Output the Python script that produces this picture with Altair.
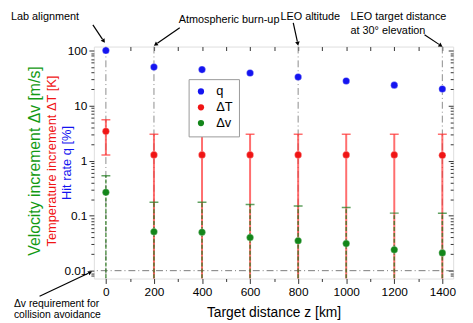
import math
import altair as alt
import pandas as pd

# ---------------- data ----------------
z = [0, 200, 400, 600, 800, 1000, 1200, 1400]
q = [100, 50, 45, 39, 33, 28, 23.5, 20]
dT = [3.4, 1.27, 1.27, 1.27, 1.27, 1.27, 1.27, 1.25]
dT_hi = [5.5, 3.0, 3.0, 3.0, 3.0, 3.0, 3.0, 3.0]
dT_lo = [1.26, 0.001, 0.001, 0.001, 0.001, 0.001, 0.001, 0.001]
dv = [0.265, 0.051, 0.05, 0.04, 0.035, 0.031, 0.024, 0.021]
dv_hi = [0.53, 0.175, 0.175, 0.16, 0.15, 0.14, 0.111, 0.11]
dv_lo = [0.001, 0.001, 0.001, 0.001, 0.001, 0.001, 0.001, 0.001]
series = ["q", "ΔT", "Δv"]
colors = ["#1414f0", "#f01414", "#13861a"]
marked_z = [0, 200, 800, 1400]
dv_requirement = [0.01]
x_ticks = [0, 200, 400, 600, 800, 1000, 1200, 1400]
x_minor = [100, 300, 500, 700, 900, 1100, 1300]
x_top = list(range(0, 1401, 100))
y_ticks = [0.01, 0.1, 1, 10, 100]
y_minor = [m * d for d in [0.001, 0.01, 0.1, 1, 10] for m in range(2, 10)]
y_minor = [v for v in y_minor if 0.0072 < v < 118 and v not in y_ticks]

FONT = "Liberation Sans"
W, H = 364, 235
xs = alt.Scale(domain=[-50, 1445], nice=False, zero=False)
ys = alt.Scale(type="log", domain=[0.0072, 118], nice=False)

df = pd.DataFrame({"z": z, "q": q, "dT": dT, "dT_hi": dT_hi, "dT_lo": dT_lo,
                   "dv": dv, "dv_hi": dv_hi, "dv_lo": dv_lo})
pts = pd.DataFrame({
    "z": z * 3,
    "val": q + dT + dv,
    "s": [series[0]] * len(z) + [series[1]] * len(z) + [series[2]] * len(z),
})

base = alt.Chart(df)


def axis_layer(xaxis, yaxis):
    return base.mark_point(opacity=0).encode(
        x=alt.X("z:Q", scale=xs, axis=xaxis),
        y=alt.Y("q:Q", scale=ys, axis=yaxis),
    )


common = dict(grid=False, domain=False, tickColor="#333", labelColor="black",
              labelFont=FONT, labelFontSize=12, labelFlush=False, labelOverlap=False)

ax1 = axis_layer(
    alt.Axis(orient="bottom", values=x_ticks, format="d", tickSize=5, labelPadding=3,
             title="Target distance z [km]", titleFont=FONT, titleFontSize=14,
             titleFontWeight="normal", titlePadding=8, titleColor="black", **common),
    alt.Axis(orient="left", values=y_ticks, format="~g", tickSize=5, labelPadding=2,
             title=None, **common),
)
ax2 = axis_layer(
    alt.Axis(orient="bottom", values=x_minor, tickSize=3, labels=False, title=None, **common),
    alt.Axis(orient="left", values=y_minor, tickSize=3, labels=False, title=None, **common),
)
ax3 = axis_layer(
    alt.Axis(orient="bottom", values=x_top, tickSize=4, labels=False, title=None,
             offset=-H, **common),
    alt.Axis(orient="left", values=y_ticks, tickSize=5, labels=False, title=None,
             offset=-W, **common),
)
ax4 = axis_layer(
    None,
    alt.Axis(orient="left", values=y_minor, tickSize=3, labels=False, title=None,
             offset=-W, **common),
)

dash = [7, 3, 1, 3]
vlines = alt.Chart(pd.DataFrame({"z": marked_z})).mark_rule(
    color="#8c8c8c", strokeDash=dash, strokeWidth=1).encode(
    x=alt.X("z:Q", scale=xs, axis=None))
hline = alt.Chart(pd.DataFrame({"v": dv_requirement})).mark_rule(
    color="#7a7a7a", strokeDash=dash, strokeWidth=1).encode(
    y=alt.Y("v:Q", scale=ys, axis=None))

red_bars = base.mark_rule(color="#ff3030", opacity=0.7, strokeWidth=2, clip=True).encode(
    x=alt.X("z:Q", scale=xs, axis=None),
    y=alt.Y("dT_lo:Q", scale=ys, axis=None), y2="dT_hi:Q")
red_caps_hi = base.mark_tick(color="#ff3030", orient="horizontal", size=9, thickness=1.5,
                             clip=True).encode(
    x=alt.X("z:Q", scale=xs, axis=None), y=alt.Y("dT_hi:Q", scale=ys, axis=None))
red_caps_lo = base.mark_tick(color="#ff3030", opacity=0.7, orient="horizontal", size=9,
                             thickness=1.5, clip=True).encode(
    x=alt.X("z:Q", scale=xs, axis=None), y=alt.Y("dT_lo:Q", scale=ys, axis=None))
green_bars = base.mark_rule(color="#2d7a22", opacity=0.75, strokeWidth=1.6,
                            strokeDash=[4, 2], clip=True).encode(
    x=alt.X("z:Q", scale=xs, axis=None),
    y=alt.Y("dv_lo:Q", scale=ys, axis=None), y2="dv_hi:Q")
green_caps = base.mark_tick(color="#1e7a1e", orient="horizontal", size=9, thickness=1.5,
                            clip=True).encode(
    x=alt.X("z:Q", scale=xs, axis=None), y=alt.Y("dv_hi:Q", scale=ys, axis=None))

points = alt.Chart(pts).mark_circle(size=52, opacity=1, stroke="white", strokeWidth=0.3).encode(
    x=alt.X("z:Q", scale=xs, axis=None),
    y=alt.Y("val:Q", scale=ys, axis=None),
    color=alt.Color("s:N", scale=alt.Scale(domain=series, range=colors),
                    legend=alt.Legend(orient="none", legendX=96, legendY=33, title=None,
                                      fillColor="white", strokeColor="#999", padding=6,
                                      symbolSize=40, symbolType="circle", labelFont=FONT,
                                      labelFontSize=13, labelColor="black", rowPadding=2,
                                      labelOffset=9, symbolStrokeWidth=0, symbolOpacity=1)),
)

shadow = alt.Chart(pd.DataFrame({"a": [0]})).mark_rect(color="black").encode(
    x=alt.value(99), x2=alt.value(144), y=alt.value(36), y2=alt.value(81))


def label(txt, px, py, color="black", size=11, angle=0, align="left"):
    return alt.Chart(pd.DataFrame({"t": [txt]})).mark_text(
        font=FONT, fontSize=size, color=color, angle=angle, align=align,
        baseline="middle").encode(x=alt.value(px), y=alt.value(py), text="t:N")


def arrow(sx, sy, tx, ty):
    dx, dy = tx - sx, ty - sy
    L = math.hypot(dx, dy)
    ux, uy = dx / L, dy / L
    ang = math.degrees(math.atan2(dx, -dy)) % 360
    line = alt.Chart(pd.DataFrame({"a": [0]})).mark_rule(color="black", strokeWidth=1.2).encode(
        x=alt.value(sx), y=alt.value(sy), x2=alt.value(tx - 4 * ux), y2=alt.value(ty - 4 * uy))
    head = alt.Chart(pd.DataFrame({"a": [0]})).mark_point(
        shape="triangle", filled=True, color="black", opacity=1, size=22, angle=ang).encode(
        x=alt.value(tx - 2.5 * ux), y=alt.value(ty - 2.5 * uy))
    return line + head


annots = [
    label("Lab alignment", -84, -30),
    label("Atmospheric burn-up", 86, -27),
    label("LEO altitude", 189, -30),
    label("LEO target distance", 260, -30),
    label("at 30° elevation", 260, -16),
    label("Δv requirement for", -81, 261, size=10.5),
    label("collision avoidance", -81, 272, size=10.5),
    label("Velocity increment Δv [m/s]", -60, 116, color="#139a13", size=16, angle=270, align="center"),
    label("Temperature increment ΔT [K]", -42, 116, color="#f01414", size=13, angle=270, align="center"),
    label("Hit rate q [%]", -27, 118, color="#1414f0", size=13, angle=270, align="center"),
    arrow(-1, -22, 11, -4),
    arrow(87, -19, 61, -1),
    arrow(202, -24, 207, -1),
    arrow(335, -12, 353, 0),
    arrow(-55, 253, -2, 228),
]

chart = alt.layer(
    ax1, ax2, ax3, ax4, vlines, hline, red_bars, red_caps_hi, red_caps_lo,
    green_bars, green_caps, shadow, points, *annots
).resolve_axis(x="independent", y="independent").properties(
    width=W, height=H,
    autosize=alt.AutoSizeParams(type="none"),
    padding={"left": 87, "top": 37, "right": 12, "bottom": 43},
).configure_view(stroke="#333", strokeWidth=1.2).configure(font=FONT)

chart.save("out.html", embed_options={"renderer": "svg", "actions": False})
